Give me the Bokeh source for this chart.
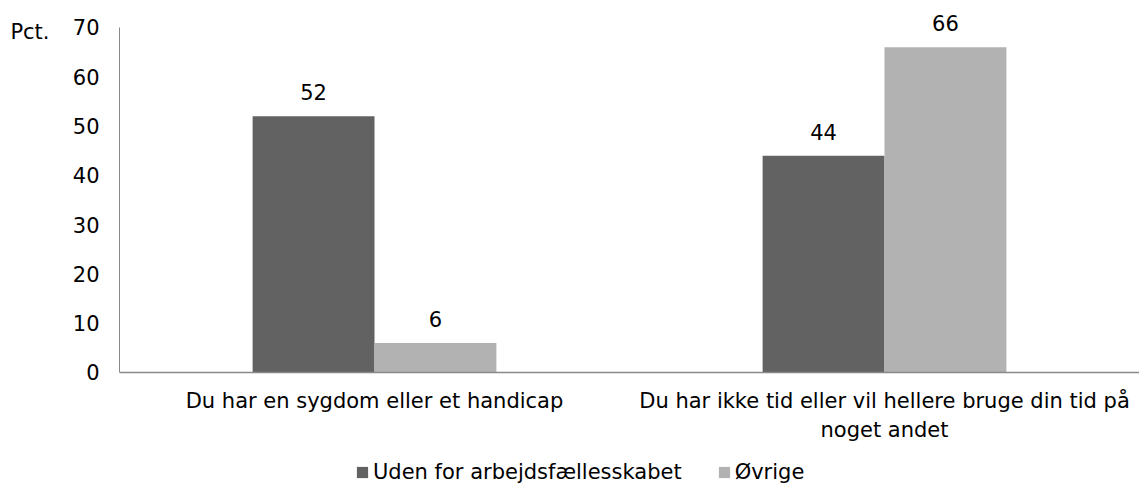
from bokeh.plotting import figure
from bokeh.models import ColumnDataSource, FactorRange, Legend, LegendItem, FixedTicker, LinearAxis, Range1d
from bokeh.transform import dodge
from bokeh.core.properties import value
from bokeh.embed import file_html
from bokeh.resources import INLINE

# ---- data ----
categories = [
    "Du har en sygdom eller et handicap",
    "Du har ikke tid eller vil hellere bruge din tid på\nnoget andet",
]
series_names = ["Uden for arbejdsfællesskabet", "Øvrige"]
uden = [52, 44]
ovrige = [6, 66]
y_ticks = [0, 10, 20, 30, 40, 50, 60, 70]
y_unit = "Pct."

FONT = "DejaVu Sans"
FS = "21px"
DARK = "#626262"
LIGHT = "#b2b2b2"
AXIS = "#898989"

src = ColumnDataSource(dict(
    cat=categories,
    uden=uden,
    ovrige=ovrige,
    uden_lbl=[str(v) for v in uden],
    ovrige_lbl=[str(v) for v in ovrige],
))

ymin, ymax = y_ticks[0], y_ticks[-1]
# frame spans the whole height; room below zero holds the category labels and legend
p = figure(
    x_range=FactorRange(*categories),
    y_range=Range1d(ymin - 23.13, ymax + 4.46),
    width=1139, height=486,
    output_backend="svg", toolbar_location=None,
    min_border_left=119, min_border_right=0,
    min_border_top=5, min_border_bottom=0,
)
p.outline_line_color = None
p.xgrid.visible = False
p.ygrid.visible = False
p.background_fill_color = "white"
p.border_fill_color = "white"

bw = 0.239
r1 = p.vbar(x=dodge("cat", -0.1195, range=p.x_range), top="uden", bottom=0, width=bw,
            source=src, fill_color=DARK, line_color=None)
r2 = p.vbar(x=dodge("cat", 0.1195, range=p.x_range), top="ovrige", bottom=0, width=bw,
            source=src, fill_color=LIGHT, line_color=None)

p.text(x=dodge("cat", -0.1195, range=p.x_range), y="uden", text="uden_lbl", source=src,
       text_align="center", text_baseline="middle", y_offset=-24,
       text_font=value(FONT), text_font_size=FS, text_color="black")
p.text(x=dodge("cat", 0.1195, range=p.x_range), y="ovrige", text="ovrige_lbl", source=src,
       text_align="center", text_baseline="middle", y_offset=-24,
       text_font=value(FONT), text_font_size=FS, text_color="black")

# y axis
ya = p.yaxis[0]
ya.ticker = FixedTicker(ticks=y_ticks)
ya.bounds = (ymin, ymax)
ya.major_tick_out = 0
ya.major_tick_in = 0
ya.minor_tick_out = 0
ya.minor_tick_in = 0
ya.axis_line_color = AXIS
ya.axis_line_width = 1
ya.major_label_standoff = 20
ya.major_label_text_font = FONT
ya.major_label_text_font_size = FS
ya.major_label_text_color = "black"

# unit label "Pct." as an outer left axis label near the top
unit_pos = ymax - 1
pa = LinearAxis(
    ticker=FixedTicker(ticks=[unit_pos]),
    major_label_overrides={unit_pos: y_unit},
    axis_line_color=None,
    major_tick_out=0, major_tick_in=0, minor_tick_out=0, minor_tick_in=0,
    major_label_standoff=20,
    major_label_text_font=FONT, major_label_text_font_size=FS,
    major_label_text_color="black",
)
p.add_layout(pa, "left")

# x axis drawn at y = 0
xa = p.xaxis[0]
xa.fixed_location = 0
xa.major_tick_out = 0
xa.major_tick_in = 0
xa.axis_line_color = AXIS
xa.axis_line_width = 1.5
xa.major_label_standoff = 17
xa.major_label_text_font = FONT
xa.major_label_text_font_size = FS
xa.major_label_text_color = "black"
xa.major_label_orientation = "horizontal"

legend = Legend(
    items=[LegendItem(label=series_names[0], renderers=[r1]),
           LegendItem(label=series_names[1], renderers=[r2])],
    orientation="horizontal", location=(236, 2),
    glyph_width=14, glyph_height=14, label_standoff=4, spacing=35,
    padding=0, margin=0, border_line_color=None, background_fill_alpha=0,
    label_text_font=FONT, label_text_font_size=FS, label_text_color="black",
)
p.add_layout(legend)

open("out.html", "w").write(file_html(p, INLINE))
